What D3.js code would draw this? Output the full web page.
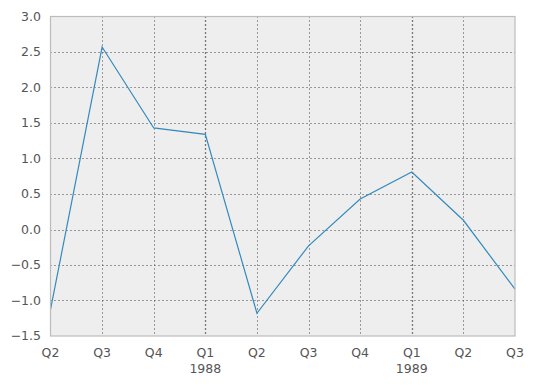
<!DOCTYPE html>
<html><head><meta charset="utf-8">
<script src="https://cdn.jsdelivr.net/npm/d3@7"></script>
<style>body{margin:0;background:#fff}svg{display:block}text{font-family:"DejaVu Sans",sans-serif}</style>
</head><body>
<script>
const quarters = ["Q2","Q3","Q4","Q1","Q2","Q3","Q4","Q1","Q2","Q3"];
const years = ["","","","1988","","","","1989","",""];
const values = [-1.13, 2.57, 1.43, 1.34, -1.18, -0.23, 0.43, 0.81, 0.13, -0.84];
const yTicks = [-1.5,-1.0,-0.5,0.0,0.5,1.0,1.5,2.0,2.5,3.0];

const W=533,H=385, L=50.5, R=515, T=16.5, B=336;
const svg=d3.select("body").append("svg").attr("width",W).attr("height",H);
const x=d3.scalePoint().domain(d3.range(values.length)).range([L,R]);
const y=d3.scaleLinear().domain([-1.5,3.0]).range([B,T]);

svg.append("rect").attr("x",L).attr("y",T).attr("width",R-L).attr("height",B-T).attr("fill","#eeeeee");

const g=svg.append("g");
g.selectAll(".hg").data(yTicks.slice(1,-1)).join("line")
 .attr("x1",L).attr("x2",R).attr("y1",d=>Math.round(y(d))+0.5).attr("y2",d=>Math.round(y(d))+0.5)
 .attr("stroke","#444").attr("stroke-width",1).attr("stroke-dasharray","1,3");
g.selectAll(".vg").data(d3.range(1,values.length-1)).join("line")
 .attr("y1",T).attr("y2",B).attr("x1",d=>Math.round(x(d))+0.5).attr("x2",d=>Math.round(x(d))+0.5)
 .attr("stroke",d=>quarters[d]==="Q1"?"#000":"#444").attr("stroke-width",d=>quarters[d]==="Q1"?1.3:1).attr("stroke-dasharray","1,3");

svg.append("path").datum(values)
 .attr("d",d3.line().x((d,i)=>x(i)).y(d=>y(d)))
 .attr("fill","none").attr("stroke","#348ABD").attr("stroke-width",1.2);

svg.append("rect").attr("x",L).attr("y",T).attr("width",R-L).attr("height",B-T)
 .attr("fill","none").attr("stroke","#bcbcbc").attr("stroke-width",1.2);

svg.selectAll(".yl").data(yTicks).join("text")
 .attr("x",L-9.5).attr("y",d=>y(d)).attr("dy","0.35em").attr("text-anchor","end")
 .attr("font-size",12.5).attr("fill","#555")
 .text(d=>d3.format(".1f")(d).replace("-","\u2212"));

svg.selectAll(".xl").data(quarters).join("text")
 .attr("x",(d,i)=>x(i)).attr("y",356.5).attr("text-anchor","middle")
 .attr("font-size",12.5).attr("fill","#555").text(d=>d);
svg.selectAll(".xy").data(years).join("text")
 .attr("x",(d,i)=>x(i)).attr("y",372.5).attr("text-anchor","middle")
 .attr("font-size",12.5).attr("fill","#555").text(d=>d);
</script>
</body></html>
